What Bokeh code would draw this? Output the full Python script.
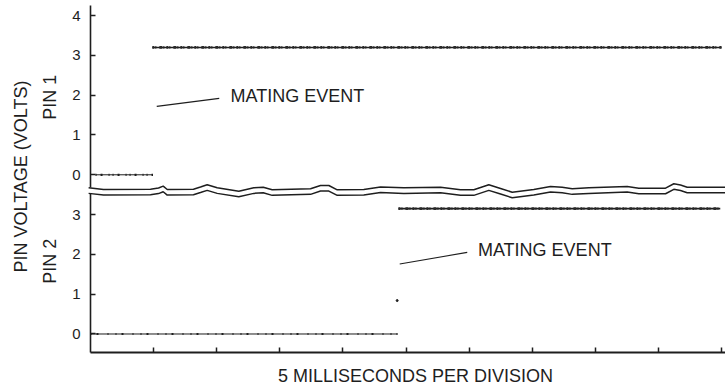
import numpy as np
from bokeh.plotting import figure
from bokeh.models import FixedTicker, Label, LinearAxis, Range1d
from bokeh.embed import file_html
from bokeh.resources import INLINE

# Time axis in scope divisions (5 ms per division)
division_ticks = [1, 2, 3, 4, 5, 6, 7, 8, 9, 10]
pin2_volt_ticks = [0, 1, 2, 3]
pin1_volt_ticks = [0, 1, 2, 3, 4]
PIN1_OFFSET = 4.0  # pin 1 panel is stacked above pin 2 on a broken axis

# Pin 1: low before mating, high after
pin1_low_t = [0.08, 0.99]
pin1_low_v = [0.0, 0.0]
pin1_high_t = [0.98, 10.0]
pin1_high_v = [3.2, 3.2]

# Pin 2: low until the later mating event, one sample on the edge, then high
pin2_low_t = [0.0, 4.865]
pin2_low_v = [0.0, 0.0]
pin2_edge_t = [4.86]
pin2_edge_v = [0.84]
pin2_high_t = [4.88, 9.98]
pin2_high_v = [3.15, 3.15]

# Callout leaders (pin 1 volts / pin 2 volts) and their text anchors
event1_t = [1.05, 2.04]
event1_v = [1.72, 1.92]
event1_text = (2.22, 1.99)
event2_t = [4.90, 5.97]
event2_v = [1.76, 2.05]
event2_text = (6.14, 2.10)

# Axis-break squiggle between the two panels (upper edge, stacked volts)
break_t = [-0.03, 0.206, 0.951, 1.078, 1.152, 1.216, 1.632, 1.743, 1.849, 2.008,
           2.350, 2.588, 2.737, 2.879, 3.487, 3.645, 3.777, 3.910, 4.331, 4.596,
           4.965, 5.547, 5.864, 6.074, 6.312, 6.498, 6.683, 7.025, 7.290, 7.475,
           7.634, 7.897, 8.505, 8.689, 9.113, 9.244, 9.350, 9.456, 10.063]
break_v = [3.673, 3.631, 3.638, 3.668, 3.714, 3.631, 3.638, 3.693, 3.749, 3.673,
           3.588, 3.673, 3.688, 3.623, 3.648, 3.731, 3.731, 3.623, 3.631, 3.693,
           3.673, 3.688, 3.623, 3.623, 3.749, 3.656, 3.563, 3.631, 3.706, 3.688,
           3.648, 3.673, 3.706, 3.663, 3.663, 3.774, 3.744, 3.688, 3.688]
BREAK_GAP = 0.14

# Visible extents of the two axis segments and the time axis
X_START, X_END = -1.4263, 10.063
Y_START, Y_END = -1.3945, 8.379
Y_FLOOR = -0.465
Y_TOP = 8.254

INK = "#1e1e1e"
FONT = "Liberation Sans"

p = figure(width=725, height=389, output_backend="svg", toolbar_location=None,
           x_range=Range1d(X_START, X_END), y_range=Range1d(Y_START, Y_END),
           x_axis_location=None, y_axis_location=None,
           min_border_left=0, min_border_right=0, min_border_top=0,
           min_border_bottom=0)
p.outline_line_color = None
p.grid.visible = False
p.background_fill_color = "white"


def style_axis(ax, ticks):
    ax.ticker = FixedTicker(ticks=ticks)
    ax.major_tick_in = 5
    ax.major_tick_out = 0
    ax.minor_tick_line_color = None
    ax.axis_line_width = 1.6
    ax.axis_line_color = INK
    ax.major_tick_line_color = INK
    ax.major_tick_line_width = 1.5
    ax.major_label_standoff = 10
    ax.major_label_text_font = FONT
    ax.major_label_text_font_size = "15px"
    ax.major_label_text_color = INK


# Pin 1 axis segment (upper panel)
pin1_ticks = [v + PIN1_OFFSET for v in pin1_volt_ticks]
ax1 = LinearAxis(fixed_location=0, bounds=(break_v[0], Y_TOP))
style_axis(ax1, pin1_ticks)
ax1.major_label_overrides = {v + PIN1_OFFSET: str(v) for v in pin1_volt_ticks}
p.add_layout(ax1, "left")

# Pin 2 axis segment (lower panel)
ax2 = LinearAxis(fixed_location=0, bounds=(Y_FLOOR, break_v[0] - BREAK_GAP))
style_axis(ax2, pin2_volt_ticks)
ax2.major_label_overrides = {v: str(v) for v in pin2_volt_ticks}
p.add_layout(ax2, "left")

# Time axis: unlabeled divisions
axx = LinearAxis(fixed_location=Y_FLOOR, bounds=(0, X_END))
style_axis(axx, division_ticks)
axx.axis_line_width = 1.8
axx.major_label_overrides = {t: "" for t in division_ticks}
p.add_layout(axx, "below")

# Traces: thin baseline plus an irregular speckled overlay for the scope grain
p.line(pin1_low_t, [v + PIN1_OFFSET for v in pin1_low_v], line_width=1.0, line_color=INK)
p.line(pin1_low_t, [v + PIN1_OFFSET for v in pin1_low_v], line_width=2.2,
       line_color=INK, line_dash="1 4 2 6 1 3")
p.line(pin1_high_t, [v + PIN1_OFFSET for v in pin1_high_v], line_width=1.6,
       line_color=INK)
p.line(pin1_high_t, [v + PIN1_OFFSET for v in pin1_high_v], line_width=2.8,
       line_color="#2a2a2a", line_dash="2 1 1 3 3 1 1 2")
p.line(pin2_low_t, pin2_low_v, line_width=1.0, line_color=INK)
p.line(pin2_low_t, pin2_low_v, line_width=2.2, line_color=INK,
       line_dash="1 5 2 9 1 7")
p.scatter(pin2_edge_t, pin2_edge_v, size=2, color=INK)
p.line(pin2_high_t, pin2_high_v, line_width=1.6, line_color=INK)
p.line(pin2_high_t, pin2_high_v, line_width=2.8, line_color="#2a2a2a",
       line_dash="2 1 1 3 3 1 1 2")

# Break squiggle
p.line(break_t, break_v, line_width=1.5, line_color=INK)
p.line(break_t, [v - BREAK_GAP for v in break_v], line_width=1.5, line_color=INK)

# Mating event callouts
p.line(event1_t, [v + PIN1_OFFSET for v in event1_v], line_width=1.1, line_color=INK)
p.add_layout(Label(x=event1_text[0], y=event1_text[1] + PIN1_OFFSET, text="MATING EVENT",
                   text_font=FONT, text_font_size="18px", text_color=INK,
                   text_align="left", text_baseline="middle"))
p.line(event2_t, event2_v, line_width=1.1, line_color=INK)
p.add_layout(Label(x=event2_text[0], y=event2_text[1], text="MATING EVENT",
                   text_font=FONT, text_font_size="18px", text_color=INK,
                   text_align="left", text_baseline="middle"))

# Axis titles
p.add_layout(Label(x=-1.109, y=3.957, text="PIN VOLTAGE (VOLTS)", angle=np.pi / 2,
                   text_font=FONT, text_font_size="18px", text_color=INK,
                   text_align="center", text_baseline="middle"))
p.add_layout(Label(x=-0.642, y=5.95, text="PIN 1", angle=np.pi / 2,
                   text_font=FONT, text_font_size="18px", text_color=INK,
                   text_align="center", text_baseline="middle"))
p.add_layout(Label(x=-0.642, y=1.83, text="PIN 2", angle=np.pi / 2,
                   text_font=FONT, text_font_size="18px", text_color=INK,
                   text_align="center", text_baseline="middle"))
p.add_layout(Label(x=5.15, y=-1.043, text="5 MILLISECONDS PER DIVISION",
                   text_font=FONT, text_font_size="18px", text_color=INK,
                   text_align="center", text_baseline="middle"))

open("out.html", "w").write(file_html(p, INLINE))
